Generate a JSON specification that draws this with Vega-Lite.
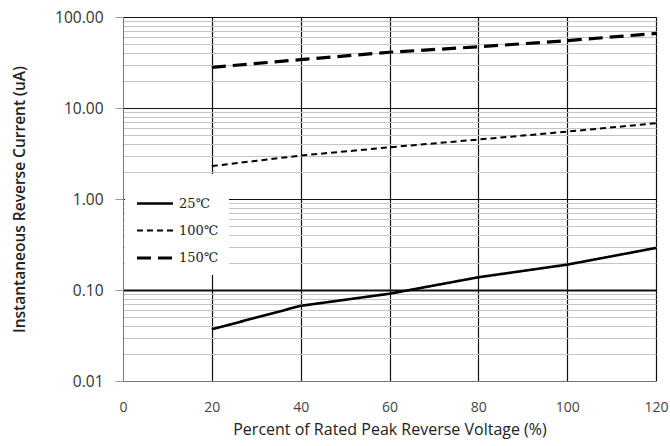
{
  "$schema": "https://vega.github.io/schema/vega-lite/v6.json",
  "width": 533,
  "height": 364,
  "autosize": "none",
  "padding": {"left": 123, "top": 17, "right": 14, "bottom": 65},
  "background": "white",
  "config": {"view": {"stroke": null}},
  "data": {
    "values": [
      {"series": "25℃", "v": 20, "i": 0.037},
      {"series": "25℃", "v": 40, "i": 0.067},
      {"series": "25℃", "v": 60, "i": 0.091},
      {"series": "25℃", "v": 80, "i": 0.138},
      {"series": "25℃", "v": 100, "i": 0.19},
      {"series": "25℃", "v": 120, "i": 0.29},
      {"series": "100℃", "v": 20, "i": 2.3},
      {"series": "100℃", "v": 40, "i": 3.0},
      {"series": "100℃", "v": 60, "i": 3.7},
      {"series": "100℃", "v": 80, "i": 4.5},
      {"series": "100℃", "v": 100, "i": 5.5},
      {"series": "100℃", "v": 120, "i": 6.8},
      {"series": "150℃", "v": 20, "i": 28},
      {"series": "150℃", "v": 40, "i": 34},
      {"series": "150℃", "v": 60, "i": 41},
      {"series": "150℃", "v": 80, "i": 47},
      {"series": "150℃", "v": 100, "i": 55},
      {"series": "150℃", "v": 120, "i": 66}
    ]
  },
  "mark": {"type": "line", "color": "black"},
  "encoding": {
    "x": {
      "field": "v", "type": "quantitative",
      "scale": {"domain": [0, 120], "nice": false, "zero": false},
      "axis": {
        "values": [0, 20, 40, 60, 80, 100, 120],
        "title": "Percent of  Rated Peak Reverse Voltage (%)",
        "titleFont": "Open Sans", "titleFontSize": 16, "titleFontWeight": "normal", "titleColor": "#222",
        "titlePadding": 7,
        "labelFont": "Open Sans", "labelFontSize": 14, "labelColor": "#444",
        "labelPadding": 19, "ticks": false, "labelFlush": false,
        "domainColor": "#777",
        "grid": true,
        "gridColor": {"condition": {"test": "datum.value == 0", "value": "transparent"}, "value": "#111"},
        "gridWidth": 1.2
      }
    },
    "y": {
      "field": "i", "type": "quantitative",
      "scale": {"type": "log", "domain": [0.01, 100], "nice": false},
      "axis": {
        "values": [0.01,0.02,0.03,0.04,0.05,0.06,0.07,0.08,0.09,0.1,0.2,0.3,0.4,0.5,0.6,0.7,0.8,0.9,1,2,3,4,5,6,7,8,9,10,20,30,40,50,60,70,80,90,100],
        "labelExpr": "(datum.value == 0.01 || datum.value == 0.1 || datum.value == 1 || datum.value == 10 || datum.value == 100) ? format(datum.value, '.2f') : ''",
        "title": "Instantaneous Reverse Current (uA)",
        "titleFont": "Open Sans", "titleFontSize": 15.5, "titleFontWeight": 600, "titleColor": "#222",
        "titlePadding": 27,
        "labelFont": "Open Sans", "labelFontSize": 15.5, "labelColor": "#333",
        "labelPadding": 12, "tickSize": 8, "tickColor": "#999",
        "tickOpacity": {"condition": {"test": "datum.value == 0.01 || datum.value == 0.1 || datum.value == 1 || datum.value == 10 || datum.value == 100", "value": 1}, "value": 0},
        "domainColor": "#777",
        "grid": true,
        "gridColor": {"condition": {"test": "datum.value == 0.1 || datum.value == 1 || datum.value == 10 || datum.value == 100", "value": "#111"}, "value": "#c4c4c4"},
        "gridWidth": {"condition": {"test": "datum.value == 0.1", "value": 2}, "value": 1}
      }
    },
    "strokeDash": {
      "field": "series", "type": "nominal",
      "scale": {"domain": ["25℃", "100℃", "150℃"], "range": [[1, 0], [6, 4], [14, 7]]},
      "legend": {
        "title": null,
        "orient": "none", "legendX": 2, "legendY": 157,
        "fillColor": "white", "padding": 10,
        "symbolType": "stroke", "symbolSize": 1300, "symbolStrokeColor": "black",
        "labelFont": "DejaVu Serif", "labelFontSize": 13, "labelColor": "#222", "labelOffset": 4,
        "rowPadding": -8
      }
    },
    "strokeWidth": {
      "field": "series", "type": "nominal",
      "scale": {"type": "ordinal", "domain": ["25℃", "100℃", "150℃"], "range": [2.6, 2, 3.2]}
    }
  }
}
